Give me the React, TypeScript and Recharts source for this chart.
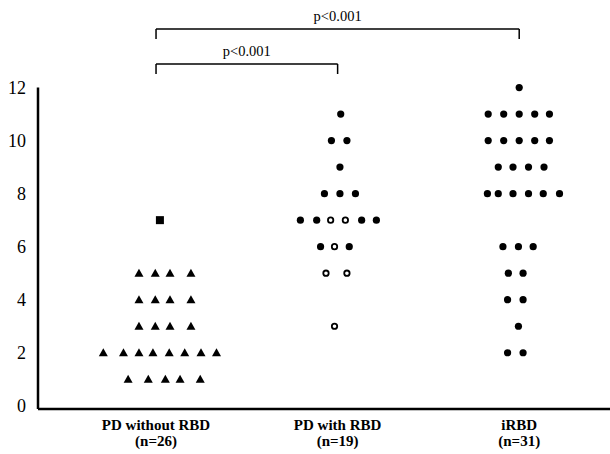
import React from 'react';
import {
  ScatterChart,
  Scatter,
  XAxis,
  YAxis,
  ReferenceLine,
} from 'recharts';

const GROUPS = ['PD without RBD', 'PD with RBD', 'iRBD'];
const GROUP_N = ['(n=26)', '(n=19)', '(n=31)'];
const Y_TICKS = [0, 2, 4, 6, 8, 10, 12];

// each row: a score and the horizontal slots of its dots (slot = one dot width)
const PD_NO_RBD_ROWS = [
  { value: 1, slots: [-1.8, -0.5, 0.6, 1.55, 2.85] },
  { value: 2, slots: [-3.4, -2.1, -1.1, -0.2, 0.85, 1.85, 2.9, 3.9] },
  { value: 3, slots: [-1.1, -0.05, 0.9, 2.25] },
  { value: 4, slots: [-1.1, -0.05, 0.9, 2.25] },
  { value: 5, slots: [-1.1, -0.05, 0.9, 2.25] },
];
const PD_NO_RBD_SQUARE = [{ value: 7, slots: [0.25] }];

const PD_RBD_FILLED = [
  { value: 11, slots: [0.2] },
  { value: 10, slots: [-0.4, 0.6] },
  { value: 9, slots: [0.15] },
  { value: 8, slots: [-0.85, 0.15, 1.15] },
  { value: 7, slots: [-2.4, -1.35, 1.55, 2.5] },
  { value: 6, slots: [-1.1, 0.75] },
];
const PD_RBD_OPEN = [
  { value: 7, slots: [-0.45, 0.5] },
  { value: 6, slots: [-0.2] },
  { value: 5, slots: [-0.75, 0.6] },
  { value: 3, slots: [-0.2] },
];

const IRBD_ROWS = [
  { value: 12, slots: [0] },
  { value: 11, slots: [-2, -1, 0, 1, 1.95] },
  { value: 10, slots: [-2, -1, 0, 1, 1.95] },
  { value: 9, slots: [-1.35, -0.4, 0.6, 1.6] },
  { value: 8, slots: [-2.05, -1.35, -0.4, 0.6, 1.55, 2.6] },
  { value: 6, slots: [-1.05, -0.05, 0.9] },
  { value: 5, slots: [-0.7, 0.25] },
  { value: 4, slots: [-0.75, 0.25] },
  { value: 3, slots: [-0.05] },
  { value: 2, slots: [-0.75, 0.25] },
];

const BRACKETS = [
  { from: 1, to: 2, level: 12.89, foot: 12.51, label: 'p<0.001' },
  { from: 1, to: 3, level: 14.21, foot: 13.83, label: 'p<0.001' },
];

const SLOT = 0.0854;
const X_DOMAIN: [number, number] = [0.35, 3.5];
const Y_DOMAIN: [number, number] = [-0.12, 15.3];
const FONT = '"Liberation Serif", "Times New Roman", serif';

type Row = { value: number; slots: number[] };
const toPoints = (group: number, rows: Row[]) =>
  rows.flatMap((r) => r.slots.map((s) => ({ x: group + s * SLOT, y: r.value })));

const triangle = (p: any) => (
  <polygon
    points={`${p.cx},${p.cy - 4.5} ${p.cx + 4.5},${p.cy + 3.5} ${p.cx - 4.5},${p.cy + 3.5}`}
    fill="#000"
  />
);
const square = (p: any) => <rect x={p.cx - 4} y={p.cy - 4} width={8} height={8} fill="#000" />;
const dot = (p: any) => <circle cx={p.cx} cy={p.cy} r={3.6} fill="#000" />;
const ring = (p: any) => (
  <circle cx={p.cx} cy={p.cy} r={2.7} fill="#fff" stroke="#000" strokeWidth={1.8} />
);

const GroupTick = (props: any) => {
  const { x, y, payload } = props;
  const i = Math.round(payload.value) - 1;
  return (
    <g transform={`translate(${x},${y})`}>
      <text textAnchor="middle" y={13} fontSize={15} fontWeight="bold" fontFamily={FONT} fill="#000">
        {GROUPS[i]}
      </text>
      <text textAnchor="middle" y={29} fontSize={15} fontWeight="bold" fontFamily={FONT} fill="#000">
        {GROUP_N[i]}
      </text>
    </g>
  );
};

export default function App() {
  return (
    <div style={{ position: 'absolute', left: 0, top: 0, background: '#fff' }}>
      <ScatterChart width={610} height={454} margin={{ top: 0, right: 0, left: 0, bottom: 0 }}>
        <XAxis
          type="number"
          dataKey="x"
          domain={X_DOMAIN}
          allowDataOverflow
          ticks={[1, 2, 3]}
          tick={<GroupTick />}
          tickLine={false}
          axisLine={{ stroke: '#000', strokeWidth: 2.5 }}
          height={45}
        />
        <YAxis
          type="number"
          dataKey="y"
          domain={Y_DOMAIN}
          allowDataOverflow
          ticks={Y_TICKS}
          width={38}
          axisLine={false}
          tickLine={false}
          tickMargin={6}
          tick={{ fontSize: 18, fill: '#000', fontFamily: FONT }}
        />
        <ReferenceLine
          segment={[{ x: X_DOMAIN[0], y: Y_DOMAIN[0] }, { x: X_DOMAIN[0], y: 12 }]}
          stroke="#000"
          strokeWidth={2.5}
          ifOverflow="visible"
        />
        {BRACKETS.map((b, i) => (
          <React.Fragment key={i}>
            <ReferenceLine
              segment={[{ x: b.from, y: b.level }, { x: b.to, y: b.level }]}
              stroke="#000"
              strokeWidth={1.5}
              ifOverflow="visible"
              label={{ value: b.label, position: 'top', fontSize: 14.5, fill: '#000', fontFamily: FONT, offset: 8 }}
            />
            <ReferenceLine
              segment={[{ x: b.from, y: b.level }, { x: b.from, y: b.foot }]}
              stroke="#000"
              strokeWidth={1.5}
              ifOverflow="visible"
            />
            <ReferenceLine
              segment={[{ x: b.to, y: b.level }, { x: b.to, y: b.foot }]}
              stroke="#000"
              strokeWidth={1.5}
              ifOverflow="visible"
            />
          </React.Fragment>
        ))}
        <Scatter data={toPoints(1, PD_NO_RBD_ROWS)} shape={triangle} isAnimationActive={false} />
        <Scatter data={toPoints(1, PD_NO_RBD_SQUARE)} shape={square} isAnimationActive={false} />
        <Scatter data={toPoints(2, PD_RBD_FILLED)} shape={dot} isAnimationActive={false} />
        <Scatter data={toPoints(2, PD_RBD_OPEN)} shape={ring} isAnimationActive={false} />
        <Scatter data={toPoints(3, IRBD_ROWS)} shape={dot} isAnimationActive={false} />
      </ScatterChart>
    </div>
  );
}
